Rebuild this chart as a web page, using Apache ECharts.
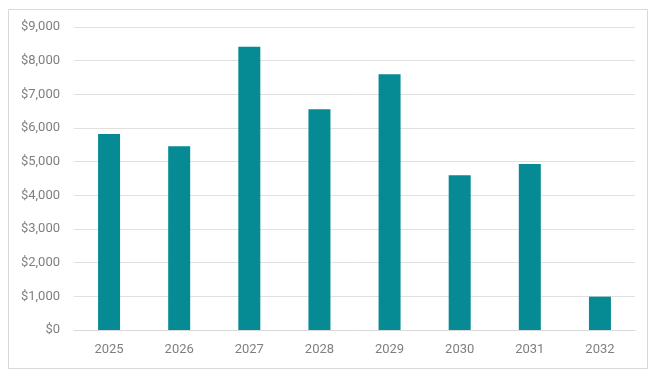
<!DOCTYPE html>
<html>
<head>
<meta charset="utf-8">
<script src="https://cdn.jsdelivr.net/npm/echarts@6/dist/echarts.min.js"></script>
<style>
  html, body { margin: 0; padding: 0; background: #fff; }
</style>
</head>
<body>
<div id="main" style="width: 664px;height:376px;"></div>
<script>
var years = ['2025', '2026', '2027', '2028', '2029', '2030', '2031', '2032'];
var amounts = [5820, 5460, 8410, 6560, 7600, 4600, 4930, 990];

var myChart = echarts.init(document.getElementById('main'));
myChart.setOption({
  animation: false,
  graphic: [{
    type: 'rect',
    shape: { x: 8.5, y: 9.5, width: 639, height: 359 },
    style: { fill: 'none', stroke: '#d9d9d9', lineWidth: 1 },
    silent: true
  }],
  grid: { left: 74, right: 29, top: 27, bottom: 46 },
  xAxis: {
    type: 'category',
    data: years,
    axisLine: { lineStyle: { color: '#d9d9d9' } },
    axisTick: { show: false },
    axisLabel: { color: '#7f7f7f', fontSize: 13, fontFamily: 'Roboto', margin: 13 }
  },
  yAxis: {
    type: 'value',
    min: 0,
    max: 9000,
    interval: 1000,
    axisLine: { show: false },
    axisTick: { show: false },
    splitLine: { lineStyle: { color: '#e0e0e0' } },
    axisLabel: {
      color: '#7f7f7f', fontSize: 13, fontFamily: 'Roboto', margin: 14,
      formatter: function (v) { return '$' + v.toLocaleString('en-US'); }
    }
  },
  series: [{
    name: 'Amount',
    type: 'bar',
    data: amounts,
    barWidth: 22,
    itemStyle: { color: '#068a94' }
  }]
});
</script>
</body>
</html>
